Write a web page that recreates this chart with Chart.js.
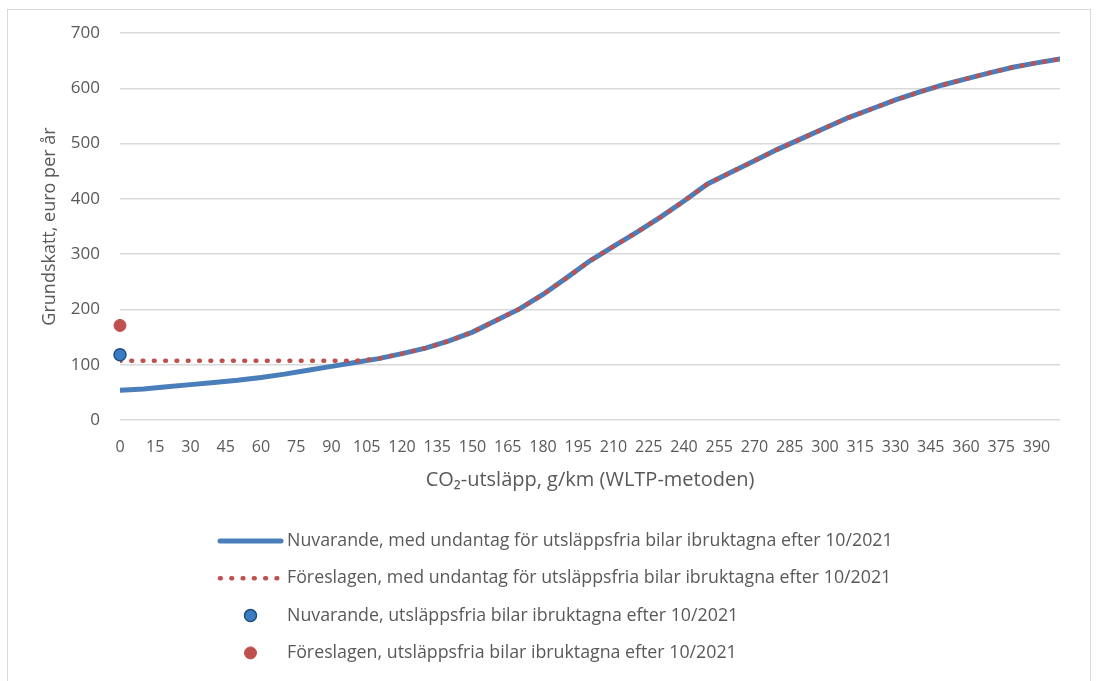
<!DOCTYPE html>
<html>
<head>
<meta charset="utf-8">
<script src="https://cdn.jsdelivr.net/npm/chart.js@4"></script>
<style>
  html, body { margin: 0; padding: 0; background: #fff; overflow: hidden; }
  #wrap { position: relative; width: 1099px; height: 681px; }
  #frame { position: absolute; left: 7px; top: 9px; width: 1082px; height: 700px; border: 1px solid #d9d9d9; }
  canvas { position: absolute; left: 0; top: 0; }
</style>
</head>
<body>
<div id="wrap">
  <div id="frame"></div>
  <canvas id="grundskatt" width="1099" height="681"></canvas>
</div>
<script>
// CO2 g/km (WLTP) and basic tax, euro per year
const co2 = [0, 10, 20, 30, 40, 50, 60, 70, 80, 90,
  100, 110, 120, 130, 140, 150, 160, 170, 180, 190,
  200, 210, 220, 230, 240, 250, 260, 270, 280, 290,
  300, 310, 320, 330, 340, 350, 360, 370, 380, 390, 400];

const nuvarande = [54, 56, 60, 64, 68, 72, 77, 83, 90, 97,
  104, 111, 120, 130, 143, 159, 180, 201, 227, 257,
  288, 314, 340, 367, 396, 427, 448, 469, 490, 509,
  528, 547, 563, 579, 593, 606, 617, 628, 638, 646, 653];

const foreslagen = [107, 107, 107, 107, 107, 107, 107, 107, 107, 107,
  107, 111, 120, 130, 143, 159, 180, 201, 227, 257,
  288, 314, 340, 367, 396, 427, 448, 469, 490, 509,
  528, 547, 563, 579, 593, 606, 617, 628, 638, 646, 653];

// zero-emission cars registered after 10/2021
const elbilCo2 = [0];
const elbilNuvarande = [118];
const elbilForeslagen = [171];

const xTickValues = [0, 15, 30, 45, 60, 75, 90, 105, 120, 135, 150, 165, 180,
  195, 210, 225, 240, 255, 270, 285, 300, 315, 330, 345, 360, 375, 390];

const labels = [
  'Nuvarande, med undantag för utsläppsfria bilar ibruktagna efter 10/2021',
  'Föreslagen, med undantag för utsläppsfria bilar ibruktagna efter 10/2021',
  'Nuvarande, utsläppsfria bilar ibruktagna efter 10/2021',
  'Föreslagen, utsläppsfria bilar ibruktagna efter 10/2021'
];

const pts = (xs, ys) => xs.map((x, i) => ({ x: x, y: ys[i] }));

Chart.defaults.font.family = "'Open Sans', sans-serif";
Chart.defaults.color = '#595959';

// one item per row, left aligned, like the Excel legend
const listLegend = {
  id: 'listLegend',
  afterDraw(chart, args, opts) {
    const ctx = chart.ctx;
    ctx.save();
    ctx.font = opts.font;
    ctx.textBaseline = 'middle';
    chart.data.datasets.forEach((ds, i) => {
      const y = opts.top + i * opts.rowGap;
      const x0 = opts.left;
      const x1 = opts.left + opts.sampleWidth;
      if (ds.showLine === false) {
        ctx.beginPath();
        ctx.arc((x0 + x1) / 2, y, ds.pointRadius, 0, Math.PI * 2);
        ctx.fillStyle = ds.pointBackgroundColor;
        ctx.fill();
        ctx.lineWidth = ds.pointBorderWidth;
        ctx.strokeStyle = ds.pointBorderColor;
        ctx.stroke();
      } else {
        ctx.beginPath();
        ctx.setLineDash(ds.borderDash || []);
        ctx.lineCap = ds.borderCapStyle || 'butt';
        ctx.lineWidth = ds.borderWidth;
        ctx.strokeStyle = ds.borderColor;
        ctx.moveTo(x0, y);
        ctx.lineTo(x1, y);
        ctx.stroke();
        ctx.setLineDash([]);
      }
      ctx.fillStyle = opts.color;
      ctx.fillText(ds.label, x1 + opts.gap, y);
    });
    ctx.restore();
  }
};

const config = {
  type: 'line',
  data: {
    datasets: [
      {
        label: labels[0],
        data: pts(co2, nuvarande),
        borderColor: '#4a7ebb',
        borderWidth: 5,
        borderCapStyle: 'round',
        pointRadius: 0,
        tension: 0,
        order: 2
      },
      {
        label: labels[1],
        data: pts(co2, foreslagen),
        borderColor: '#c0504d',
        borderWidth: 4.5,
        borderDash: [0.8, 10.5],
        borderCapStyle: 'round',
        pointRadius: 0,
        tension: 0,
        order: 1
      },
      {
        label: labels[2],
        data: pts(elbilCo2, elbilNuvarande),
        showLine: false,
        pointRadius: 6,
        pointBackgroundColor: '#3a7cc3',
        pointBorderColor: '#1f4e79',
        pointBorderWidth: 1.5,
        clip: false,
        order: 0
      },
      {
        label: labels[3],
        data: pts(elbilCo2, elbilForeslagen),
        showLine: false,
        pointRadius: 6,
        pointBackgroundColor: '#c0504d',
        pointBorderColor: '#c0504d',
        pointBorderWidth: 1,
        clip: false,
        order: 0
      }
    ]
  },
  options: {
    responsive: false,
    animation: false,
    layout: { padding: { top: 33, right: 39, bottom: 181, left: 0 } },
    plugins: {
      legend: { display: false },
      tooltip: { enabled: false },
      listLegend: {
        left: 220,
        top: 541,
        rowGap: 37.3,
        sampleWidth: 61,
        gap: 6,
        font: "17.8px 'Open Sans', sans-serif",
        color: '#595959'
      }
    },
    scales: {
      x: {
        type: 'linear',
        min: 0,
        max: 400,
        afterBuildTicks: s => { s.ticks = xTickValues.map(v => ({ value: v })); },
        afterFit: s => { s.height = 80; },
        grid: { display: false },
        border: { display: false },
        ticks: { autoSkip: false, maxRotation: 0, minRotation: 0, padding: 10, font: { size: 16 } },
        title: {
          display: true,
          text: 'CO₂-utsläpp, g/km (WLTP-metoden)',
          font: { size: 20 },
          padding: { top: 0, bottom: 8 }
        }
      },
      y: {
        min: 0,
        max: 700,
        afterFit: s => { s.width = 120; },
        grid: { color: '#d9d9d9', lineWidth: 1.5, drawTicks: false },
        border: { display: false },
        ticks: { stepSize: 100, padding: 20, font: { size: 17 } },
        title: {
          display: true,
          text: 'Grundskatt, euro per år',
          font: { size: 18 },
          padding: { top: 39, bottom: 0 }
        }
      }
    }
  },
  plugins: [listLegend]
};

const myChart = new Chart(document.getElementById('grundskatt'), config);
</script>
</body>
</html>
